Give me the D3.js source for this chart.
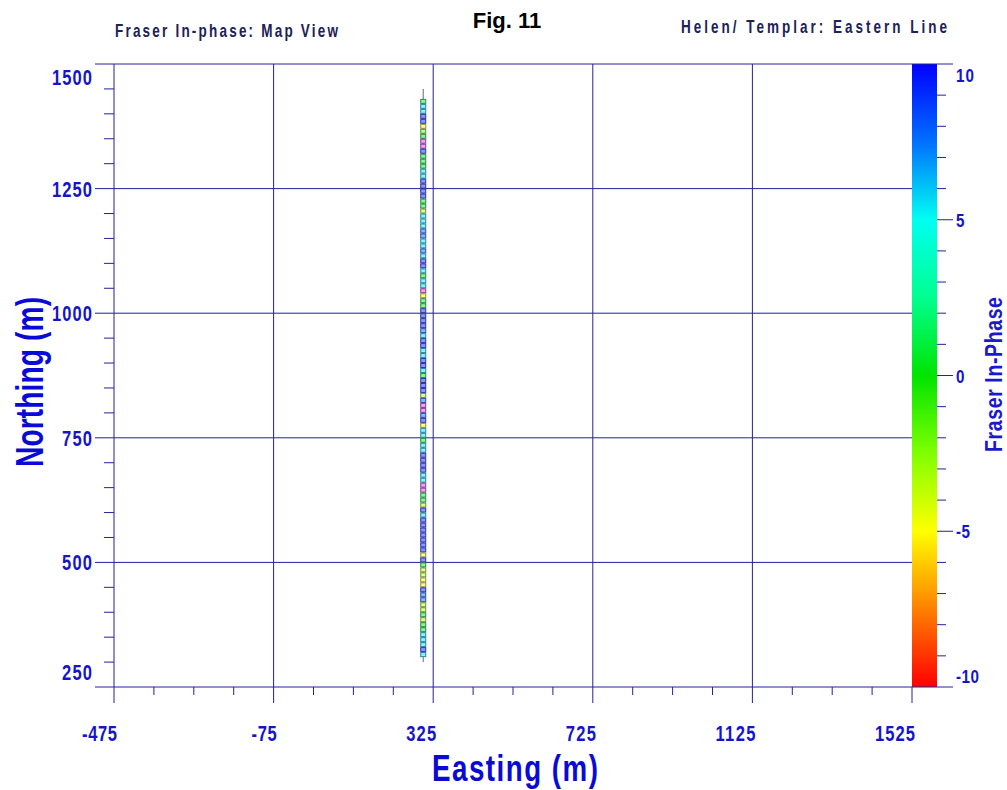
<!DOCTYPE html>
<html>
<head>
<meta charset="utf-8">
<script src="https://cdn.jsdelivr.net/npm/d3@7"></script>
<style>
  body { margin: 0; background: #fff; }
  text { font-family: "Liberation Sans", Arial, sans-serif; font-weight: bold; }
</style>
</head>
<body>
<script>
// survey stations along the line (northing, m), top to bottom
const northing = [
  1425,1415,1405,1395,1385,1375,1365,1355,1345,1335,1325,1315,1305,1295,1285,1275,
  1265,1255,1245,1235,1225,1215,1205,1195,1185,1175,1165,1155,1145,1135,1125,1115,
  1105,1095,1085,1075,1065,1055,1045,1035,1025,1015,1005,995,985,975,965,955,
  945,935,925,915,905,895,885,875,865,855,845,835,825,815,805,795,
  785,775,765,755,745,735,725,715,705,695,685,675,665,655,645,635,
  625,615,605,595,585,575,565,555,545,535,525,515,505,495,485,475,
  465,455,445,435,425,415,405,395,385,375,365,355,345,335,325,315
];
// Fraser in-phase value at each station
const inPhase = [
  0.5,5.5,5.5,9.5,9.5,-5,-2,0.5,12,12,9.5,0.5,0.5,0.5,5.5,5.5,
  9.5,9.5,9.5,9.5,0.5,0.5,-3.5,5.5,5.5,5.5,8,8,5.5,5.5,8,5.5,
  9.5,9.5,5.5,0.5,5.5,5.5,12,-5,0.5,0.5,9.5,9.5,9.5,9.5,8,5.5,
  9.5,9.5,5.5,5.5,9.5,9.5,5.5,0.5,9.5,9.5,9.5,-3.5,8,12,12,8,
  9.5,-5,5.5,5.5,0.5,5.5,5.5,9.5,9.5,9.5,9.5,5.5,5.5,12,12,0.5,
  0.5,-3.5,9.5,5.5,9.5,9.5,9.5,9.5,9.5,9.5,9.5,-5,9.5,0.5,-3.5,-3.5,
  -5,-5,9.5,8,8,-3.5,-3.5,0.5,-3.5,0.5,0.5,5.5,5.5,5.5,9.5,5.5
];
const lineEasting = 300;
const lineNorthing = [300, 1450];

const xTicks = [-475, -75, 325, 725, 1125, 1525];
const yTicks = [250, 500, 750, 1000, 1250, 1500];
const cbTicks = [-10, -5, 0, 5, 10];

const W = 1007, H = 790;
const pLeft = 114, pRight = 912, pTop = 64, pBottom = 687;
const cbLeft = 912, cbRight = 937;
const ink = "#22229a", blue = "#1414c8";

const x = d3.scaleLinear().domain([-475, 1525]).range([pLeft, pRight]);
const y = d3.scaleLinear().domain([250, 1500]).range([pBottom, pTop]);
const cb = d3.scaleLinear().domain([-10, 10]).range([pBottom, pTop]);
const color = d3.scaleLinear()
  .domain([-10, -7.5, -5, -2.5, 0, 2.5, 5, 7.5, 10])
  .range(["#ff0000", "#ff8000", "#ffff00", "#80ff00", "#00e400", "#00ff90", "#00fff0", "#0070ff", "#0000ff"])
  .clamp(true);
const overColor = "#e030e0";
const symColor = v => v > 10 ? overColor : color(v);

const svg = d3.select("body").append("svg").attr("width", W).attr("height", H);

// narrow lettering: squeeze glyphs horizontally, stretch spacing to the wanted width
function narrow(txt, o) {
  const sx = o.sx || 0.75;
  const t = svg.append("text")
    .attr("transform", `translate(${o.x},${o.y}) rotate(${o.rot || 0}) scale(${sx},1)`)
    .attr("font-size", o.size).attr("fill", o.fill)
    .attr("text-anchor", o.anchor || "start")
    .text(txt);
  if (o.width) t.attr("textLength", o.width / sx).attr("lengthAdjust", "spacing");
  return t;
}

// colour bar
const grad = svg.append("defs").append("linearGradient")
  .attr("id", "cbgrad").attr("x1", 0).attr("y1", 1).attr("x2", 0).attr("y2", 0);
color.domain().forEach(v => grad.append("stop")
  .attr("offset", (v + 10) / 20).attr("stop-color", color(v)));
svg.append("rect").attr("x", cbLeft).attr("y", pTop)
  .attr("width", cbRight - cbLeft).attr("height", pBottom - pTop)
  .attr("fill", "url(#cbgrad)");

const g = svg.append("g").attr("stroke", ink).attr("stroke-width", 1).attr("fill", "none");

// grid + major ticks
g.selectAll(".vg").data(xTicks.slice(1, -1)).join("line")
  .attr("x1", d => x(d)).attr("x2", d => x(d)).attr("y1", pTop).attr("y2", pBottom + 16);
g.selectAll(".hg").data(yTicks.slice(1, -1)).join("line")
  .attr("y1", d => y(d)).attr("y2", d => y(d)).attr("x1", pLeft - 19).attr("x2", pRight);
// frame
g.append("line").attr("x1", pLeft - 19).attr("x2", cbRight + 16).attr("y1", pTop).attr("y2", pTop);
g.append("line").attr("x1", pLeft - 19).attr("x2", cbRight + 16).attr("y1", pBottom).attr("y2", pBottom);
g.append("line").attr("x1", pLeft).attr("x2", pLeft).attr("y1", pTop).attr("y2", pBottom + 16);
g.append("line").attr("x1", pRight).attr("x2", pRight).attr("y1", pBottom).attr("y2", pBottom + 16);
// minor ticks
g.selectAll(".xm").data(d3.range(-375, 1525, 100).filter(v => !xTicks.includes(v))).join("line")
  .attr("x1", d => x(d)).attr("x2", d => x(d)).attr("y1", pBottom).attr("y2", pBottom + 8);
g.selectAll(".ym").data(d3.range(300, 1500, 50).filter(v => !yTicks.includes(v))).join("line")
  .attr("y1", d => y(d)).attr("y2", d => y(d)).attr("x1", pLeft - 10).attr("x2", pLeft);
g.selectAll(".cm").data(d3.range(-9, 10, 1)).join("line")
  .attr("y1", d => cb(d)).attr("y2", d => cb(d)).attr("x1", cbRight)
  .attr("x2", d => d % 5 === 0 ? cbRight + 16 : cbRight + 9);

// survey line and stations
svg.append("line")
  .attr("x1", x(lineEasting)).attr("x2", x(lineEasting))
  .attr("y1", y(lineNorthing[0])).attr("y2", y(lineNorthing[1]))
  .attr("stroke", "#666a78").attr("stroke-width", 1);
svg.append("g").selectAll("rect").data(northing).join("rect")
  .attr("x", x(lineEasting) - 2.5).attr("y", d => y(d) - 2)
  .attr("width", 5).attr("height", 4)
  .attr("fill", (d, i) => d3.interpolateRgb(symColor(inPhase[i]), "#ffffff")(0.55))
  .attr("stroke", (d, i) => d3.interpolateRgb(symColor(inPhase[i]), "#464c62")(0.62))
  .attr("stroke-width", 1);

// tick labels
xTicks.forEach(d => narrow(String(d), {
  x: x(d) + 3, y: 741, size: 22, fill: blue, anchor: "end",
  width: String(d).replace("-", "").length * 10 + (d < 0 ? 5 : 0)
}));
yTicks.forEach(d => narrow(String(d), {
  x: 92, y: (d === 1500 ? y(d) + 13 : d === 250 ? y(d) - 15 : y(d)) + 8,
  size: 22, fill: blue, anchor: "end", width: String(d).length * 10
}));
cbTicks.forEach(d => narrow(String(d), {
  x: 956, y: (d === 10 ? cb(d) + 11 : d === -10 ? cb(d) - 11 : cb(d)) + 7,
  size: 19, fill: blue, sx: 0.8,
  width: String(d).replace("-", "").length * 9 + (d < 0 ? 5 : 0)
}));

// titles
narrow("Fraser In-phase: Map View", { x: 115, y: 37, size: 18, fill: "#20205a", width: 223 });
svg.append("text").attr("x", 507).attr("y", 28).attr("text-anchor", "middle")
  .attr("font-size", 22).attr("fill", "#000")
  .text("Fig. 11");
narrow("Helen/ Templar: Eastern Line", { x: 681, y: 33, size: 18, fill: "#20205a", width: 266 });

// axis titles
narrow("Easting (m)", { x: 432, y: 781, size: 37, fill: "#0a0ad8", width: 166 });
narrow("Northing (m)", { x: 43, y: 467, rot: -90, size: 39, fill: "#0a0ad8", width: 170, sx: 0.72 });
narrow("Fraser In-Phase", { x: 1002, y: 452, rot: -90, size: 23, fill: "#1a1acc", width: 155, sx: 0.85 });
</script>
</body>
</html>
